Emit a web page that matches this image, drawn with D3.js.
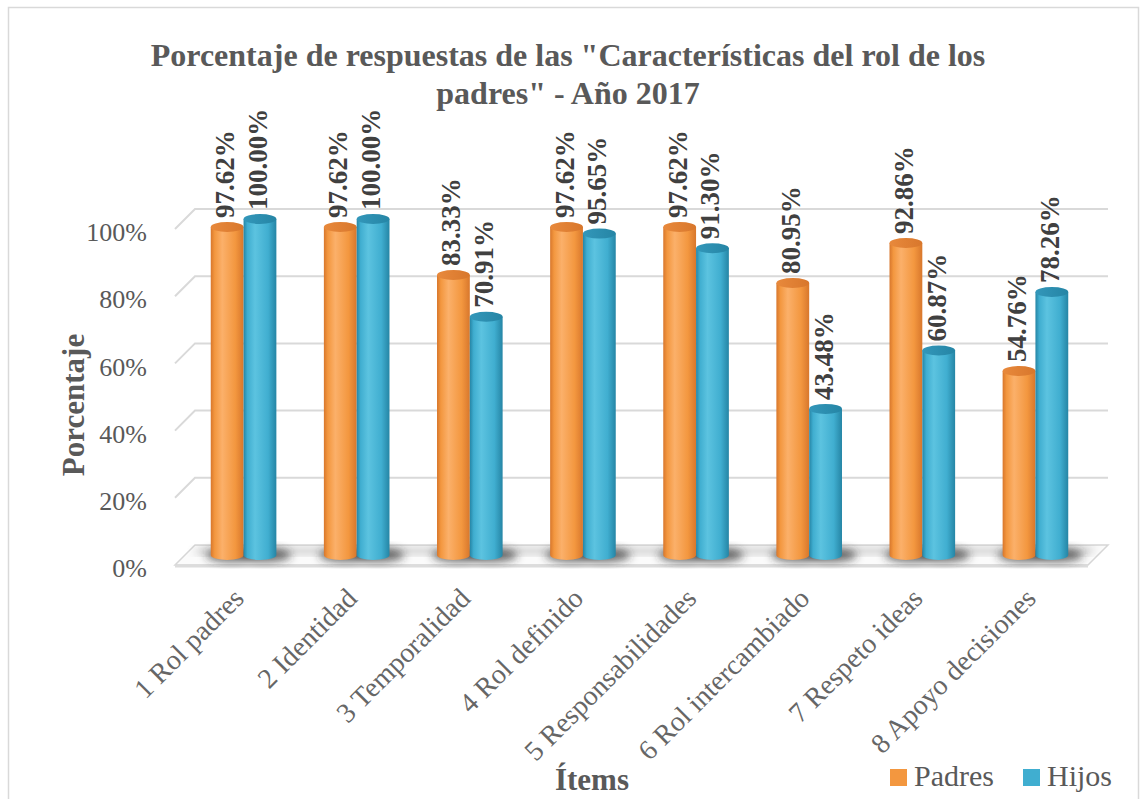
<!DOCTYPE html>
<html>
<head>
<meta charset="utf-8">
<script src="https://cdn.jsdelivr.net/npm/d3@7"></script>
<style>
  body { margin: 0; background: #fff; }
  svg text { font-family: "Liberation Serif", "Times New Roman", serif; }
</style>
</head>
<body>
<svg id="chart" width="1140" height="799"></svg>
<script>
// data
const items = ["1 Rol padres", "2 Identidad", "3 Temporalidad", "4 Rol definido",
  "5 Responsabilidades", "6 Rol intercambiado", "7 Respeto ideas", "8 Apoyo decisiones"];
const padres = [97.62, 97.62, 83.33, 97.62, 97.62, 80.95, 92.86, 54.76];
const hijos = [100.00, 100.00, 70.91, 95.65, 91.30, 43.48, 60.87, 78.26];
const seriesNames = ["Padres", "Hijos"];
const yTicks = [0, 20, 40, 60, 80, 100];

const svg = d3.select("#chart");
const grey = "#595959";

// 3d depth: back wall vs front edge
const depth = { dx: -20, dy: 20 };
const wallLeft = 195, wallRight = 1108;
const y = d3.scaleLinear().domain([0, 100]).range([545, 209]);
const x = d3.scaleBand().domain(items).range([187, 1092]).paddingInner(0.42).paddingOuter(0.21);
const xs = d3.scaleBand().domain(seriesNames).range([0, x.bandwidth()]);

const colors = {
  Padres: { dark: "#d8772c", mid: "#f3973f", light: "#fbb06a", top: "#e8893c" },
  Hijos: { dark: "#2585a5", mid: "#40aed0", light: "#5cc3e0", top: "#3397ba" }
};

const defs = svg.append("defs");
seriesNames.forEach(s => {
  const c = colors[s];
  const g = defs.append("linearGradient").attr("id", "grad-" + s).attr("x1", "0").attr("x2", "1");
  g.append("stop").attr("offset", "0%").attr("stop-color", c.dark);
  g.append("stop").attr("offset", "12%").attr("stop-color", c.mid);
  g.append("stop").attr("offset", "35%").attr("stop-color", c.light);
  g.append("stop").attr("offset", "75%").attr("stop-color", c.mid);
  g.append("stop").attr("offset", "100%").attr("stop-color", c.dark);
  const t = defs.append("linearGradient").attr("id", "top-" + s).attr("x1", "0").attr("x2", "1");
  t.append("stop").attr("offset", "0%").attr("stop-color", c.top);
  t.append("stop").attr("offset", "100%").attr("stop-color", c.dark);
});
defs.append("filter").attr("id", "blur").attr("x", "-50%").attr("y", "-50%").attr("width", "200%").attr("height", "200%")
  .append("feGaussianBlur").attr("stdDeviation", 4);

// chart border
svg.append("rect")
  .attr("x", 8.5).attr("y", 7.5).attr("width", 1130).attr("height", 800)
  .attr("fill", "none").attr("stroke", "#d9d9d9").attr("stroke-width", 1.5);

// title
const title = svg.append("text")
  .attr("text-anchor", "middle")
  .attr("font-weight", "bold").attr("font-size", 32).attr("fill", grey);
title.append("tspan").attr("x", 568).attr("y", 66)
  .text('Porcentaje de respuestas de las "Características del rol de los');
title.append("tspan").attr("x", 568).attr("y", 104).text('padres" - Año 2017');

// gridlines (back wall + left side)
const grid = svg.append("g").attr("stroke", "#d9d9d9").attr("stroke-width", 2).attr("fill", "none");
yTicks.filter(t => t > 0).forEach(t => {
  grid.append("path")
    .attr("d", `M${wallLeft + depth.dx},${y(t) + depth.dy}L${wallLeft},${y(t)}L${wallRight},${y(t)}`);
});

// floor
const floorY = y(0);
svg.append("path")
  .attr("d", `M${wallLeft},${floorY}L${wallRight},${floorY}L${wallRight + depth.dx},${floorY + depth.dy}L${wallLeft + depth.dx},${floorY + depth.dy}Z`)
  .attr("fill", "#fbfbfb").attr("stroke", "#d6d6d6").attr("stroke-width", 1.5);

// shadow band along the back of the floor
svg.append("path")
  .attr("d", `M${wallLeft + 4},${floorY + 3}L${wallRight - 12},${floorY + 3}L${wallRight - 18},${floorY + 9}L${wallLeft - 2},${floorY + 9}Z`)
  .attr("fill", "#8a8a8a").attr("opacity", 0.45).attr("filter", "url(#blur)");

svg.append("line")
  .attr("x1", wallLeft + depth.dx).attr("x2", wallRight + depth.dx)
  .attr("y1", floorY + depth.dy + 1).attr("y2", floorY + depth.dy + 1)
  .attr("stroke", "#dcdcdc").attr("stroke-width", 3);

// y tick labels
svg.append("g").selectAll("text").data(yTicks).join("text")
  .attr("x", 147).attr("y", d => y(d) + depth.dy + 3)
  .attr("dy", "0.35em").attr("text-anchor", "end")
  .attr("font-size", 26).attr("fill", grey)
  .text(d => d + "%");

// bars as cylinders at mid depth
const mid = { dx: depth.dx / 2, dy: depth.dy / 2 };
const rows = [];
items.forEach((it, i) => {
  rows.push({ item: it, s: "Padres", v: padres[i] });
  rows.push({ item: it, s: "Hijos", v: hijos[i] });
});
const w = xs.bandwidth();
const ry = 5;
const base = y(0) + mid.dy;

// shadows on floor
svg.append("g").attr("filter", "url(#blur)").selectAll("ellipse").data(rows).join("ellipse")
  .attr("cx", d => x(d.item) + xs(d.s) + w / 2 + 5)
  .attr("cy", base)
  .attr("rx", w * 0.8).attr("ry", 7)
  .attr("fill", "#2e2e2e").attr("opacity", 0.7);

const bars = svg.append("g").selectAll("g").data(rows).join("g")
  .attr("transform", d => `translate(${x(d.item) + xs(d.s)},0)`);
bars.append("path")
  .attr("d", d => {
    const top = y(d.v) + mid.dy;
    return `M0,${top}L0,${base}A${w / 2},${ry} 0 0 0 ${w},${base}L${w},${top}Z`;
  })
  .attr("fill", d => `url(#grad-${d.s})`);
bars.append("ellipse")
  .attr("cx", w / 2).attr("cy", d => y(d.v) + mid.dy)
  .attr("rx", w / 2).attr("ry", ry)
  .attr("fill", d => `url(#top-${d.s})`);

// value labels
svg.append("g").selectAll("text").data(rows).join("text")
  .attr("transform", d => `translate(${x(d.item) + xs(d.s) + w / 2 + 7},${y(d.v) + mid.dy - ry - 4}) rotate(-90)`)
  .attr("font-size", 27).attr("font-weight", "bold").attr("fill", "#404040")
  .text(d => d.v.toFixed(2) + "%");

// x labels
svg.append("g").selectAll("text").data(items).join("text")
  .attr("transform", d => `translate(${x(d) + x.bandwidth() / 2 + 2},600) rotate(-45)`)
  .attr("text-anchor", "end").attr("font-size", 28).attr("fill", "#666")
  .text(d => d);

// axis titles
svg.append("text")
  .attr("transform", "translate(84,405) rotate(-90)")
  .attr("text-anchor", "middle").attr("font-size", 31).attr("font-weight", "bold").attr("fill", grey)
  .text("Porcentaje");
svg.append("text")
  .attr("x", 592).attr("y", 790)
  .attr("text-anchor", "middle").attr("font-size", 31).attr("font-weight", "bold").attr("fill", grey)
  .text("Ítems");

// legend
const legend = svg.append("g");
const legendX = [890, 1023];
seriesNames.forEach((s, i) => {
  legend.append("rect").attr("x", legendX[i]).attr("y", 769).attr("width", 17).attr("height", 17)
    .attr("fill", colors[s].mid);
  legend.append("text").attr("x", legendX[i] + 24).attr("y", 786)
    .attr("font-size", 30).attr("fill", grey).text(s);
});
</script>
</body>
</html>
